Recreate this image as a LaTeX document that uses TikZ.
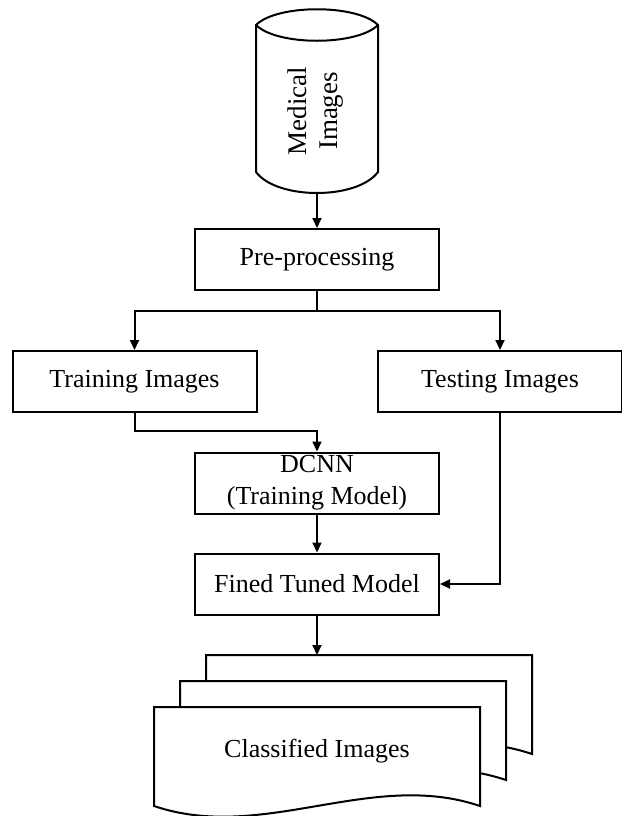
\documentclass[tikz,border=0pt]{standalone}
\usepackage{fontspec}
\setmainfont{Liberation Serif}
\usetikzlibrary{arrows.meta,positioning}

\begin{document}
\begin{tikzpicture}[
    x=0.5pt, y=-0.5pt,
    txt/.style={font=\fontsize{13}{16}\selectfont},
    box/.style={rectangle, draw=black, line width=1pt, fill=white, txt,
                minimum width=122pt, minimum height=30.5pt, align=center, inner sep=0pt},
    shp/.style={draw=black, line width=1pt, fill=white},
    arr/.style={-{Triangle[length=5pt,width=4.5pt]}, line width=1pt}
]
    \useasboundingbox (0,0) rectangle (622,816);

    % image store
    \draw[shp] (256,25) .. controls (277,4) and (357,4) .. (378,25)
        -- (378,172) .. controls (357,200) and (277,200) .. (256,172) -- cycle;
    \draw[line width=1pt] (256,25) .. controls (277,46) and (357,46) .. (378,25);
    \node[txt, rotate=90, align=center, font=\fontsize{13.5}{15.5}\selectfont] (medical) at (316,111) {Medical\\Images};
    \coordinate (medbot) at (317,193);

    % process boxes
    \node[box] (pre)   at (317,259.5) {Pre-processing};
    \node[box] (train) at (134.5,381.5) {Training Images};
    \node[box] (test)  at (500,381.5) {Testing Images};
    \node[box] (dcnn)  at (317,483) {DCNN\\(Training Model)};
    \node[box] (fined) at (317,584) {Fined Tuned Model};

    % output pages, back to front
    \foreach \d in {52,26,0}
        \draw[shp, shift={(\d,-\d)}] (154,707) -- (480,707) -- (480,806)
            .. controls (371,769) and (263,843) .. (154,806) -- cycle;
    \node[txt] (classified) at (317,751) {Classified Images};
    \coordinate (stacktop) at (317,655);

    \coordinate (split) at (317,311);
    \coordinate (join) at (317,431);

    \draw[arr] (medbot) -- (pre.north);
    \draw[line width=1pt] (pre.south) -- (split);
    \draw[arr] (split) -| (train.north);
    \draw[arr] (split) -| (test.north);
    \draw[arr] (train.south) |- (join) -- (dcnn.north);
    \draw[arr] (dcnn.south) -- (fined.north);
    \draw[arr] (test.south) |- (fined.east);
    \draw[arr] (fined.south) -- (stacktop);
\end{tikzpicture}
\end{document}
